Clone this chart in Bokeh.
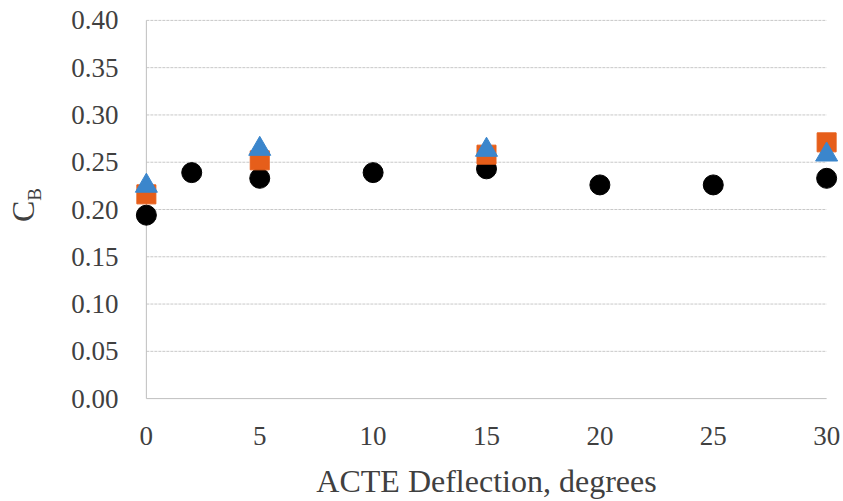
from bokeh.plotting import figure
from bokeh.models import Range1d, FixedTicker, NumeralTickFormatter
from bokeh.layouts import row
from bokeh.core.properties import value
from bokeh.embed import file_html
from bokeh.resources import INLINE
from math import pi

# Deflection angles (degrees) and body coefficient C_B for each test series
x_circle = [0, 2, 5, 10, 15, 20, 25, 30]
cb_circle = [0.194, 0.239, 0.233, 0.239, 0.243, 0.226, 0.226, 0.233]

x_square = [0, 5, 15, 30]
cb_square = [0.216, 0.252, 0.258, 0.271]

x_triangle = [0, 5, 15, 30]
cb_triangle = [0.225, 0.264, 0.263, 0.258]

x_ticks = [0, 5, 10, 15, 20, 25, 30]
y_ticks = [0.0, 0.05, 0.10, 0.15, 0.20, 0.25, 0.30, 0.35, 0.40]

FONT = "'Liberation Serif', 'Times New Roman', serif"
TEXT = "#404040"
AXIS = "#bfbfbf"
GRID = "#c8c8c8"
H = 501
TITLE_W = 50
BORDER_TOP = 18
BORDER_BOTTOM = 101


def y_range():
    return Range1d(-0.002, 0.402)


# narrow strip holding the rotated y title C_B; shares the main plot's vertical scale
t = figure(width=TITLE_W, height=H, output_backend="svg", toolbar_location=None,
           x_range=Range1d(0, TITLE_W), y_range=y_range(),
           x_axis_location=None, y_axis_location=None,
           min_border_left=0, min_border_right=0,
           min_border_top=BORDER_TOP, min_border_bottom=BORDER_BOTTOM,
           outline_line_color=None)
t.grid.visible = False
t.text(x=[22], y=[0.198], text=["C"], angle=pi / 2, text_align="center",
       text_baseline="middle", text_font=value(FONT), text_font_size="32px",
       text_color=TEXT)
t.text(x=[33.5], y=[0.216], text=["B"], angle=pi / 2, text_align="center",
       text_baseline="middle", text_font=value(FONT), text_font_size="19px",
       text_color=TEXT)

p = figure(width=843 - TITLE_W, height=H, output_backend="svg", toolbar_location=None,
           x_range=Range1d(-0.7, 30.7), y_range=y_range())
p.min_border_left = 130 - TITLE_W
p.min_border_right = 1
p.min_border_top = BORDER_TOP
p.min_border_bottom = BORDER_BOTTOM
p.outline_line_color = None
p.background_fill_color = "white"
p.border_fill_color = "white"
p.xgrid.visible = False
p.ygrid.visible = False

# axes: labels only, lines drawn below as segments so they stop at the data limits
p.xaxis.ticker = FixedTicker(ticks=x_ticks)
p.yaxis.ticker = FixedTicker(ticks=y_ticks)
p.yaxis.formatter = NumeralTickFormatter(format="0.00")
for ax in (p.xaxis, p.yaxis):
    ax.axis_line_color = None
    ax.major_tick_line_color = None
    ax.minor_tick_line_color = None
    ax.major_tick_out = 0
    ax.major_tick_in = 0
    ax.major_label_text_font = FONT
    ax.major_label_text_font_size = "27px"
    ax.major_label_text_color = TEXT
p.xaxis.major_label_standoff = 26
p.yaxis.major_label_standoff = 12
p.xaxis.axis_label = "ACTE Deflection, degrees"
p.xaxis.axis_label_text_font = FONT
p.xaxis.axis_label_text_font_size = "32px"
p.xaxis.axis_label_text_font_style = "normal"
p.xaxis.axis_label_text_color = TEXT
p.xaxis.axis_label_standoff = 15

# dotted horizontal gridlines between the first and last x tick
grid_y = [v for v in y_ticks if v > 0]
p.segment(x0=[x_ticks[0]] * len(grid_y), x1=[x_ticks[-1]] * len(grid_y),
          y0=grid_y, y1=grid_y, line_color=GRID, line_width=1, line_dash="3 1")
# solid axis lines
p.segment(x0=[x_ticks[0], x_ticks[0]], x1=[x_ticks[-1], x_ticks[0]],
          y0=[y_ticks[0], y_ticks[0]], y1=[y_ticks[0], y_ticks[-1]],
          line_color=AXIS, line_width=1)

p.scatter(x_circle, cb_circle, marker="circle", size=20,
          fill_color="black", line_color="black")
p.scatter(x_square, cb_square, marker="square", size=19,
          fill_color="#E65E1A", line_color="#E65E1A")
p.scatter(x_triangle, cb_triangle, marker="triangle", size=22,
          fill_color="#3B86CC", line_color="#3B86CC")

layout = row(t, p, spacing=0)
open("out.html", "w").write(file_html(layout, INLINE))
